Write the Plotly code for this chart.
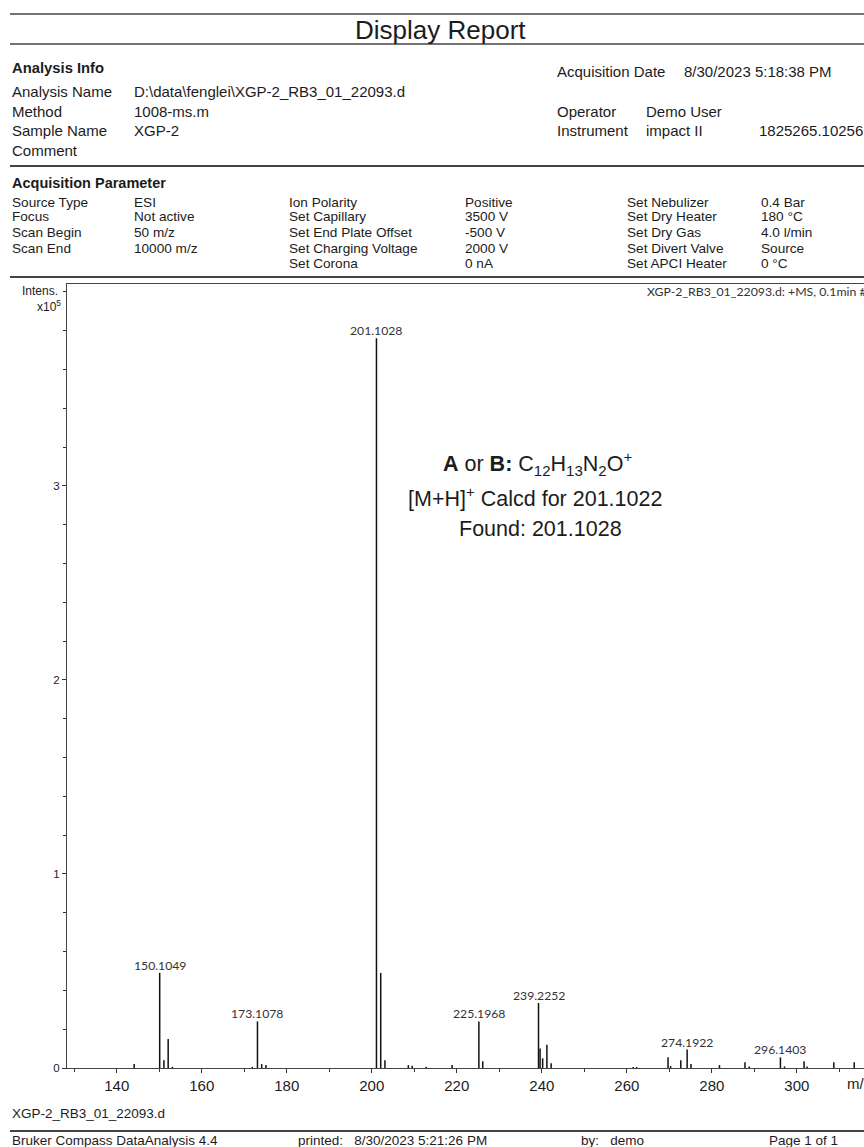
import plotly.graph_objects as go

# ---------------- data ----------------
peak_mz = [144.1, 150.1049, 151.1, 152.1, 153.1, 171.9, 173.1078, 174.1, 175.1,
           201.1028, 202.1, 203.1, 208.6, 209.5, 212.8, 218.9, 225.1968, 226.1,
           239.2252, 239.6, 240.2, 241.2, 242.2, 261.5, 262.3, 269.7, 270.3,
           272.7, 274.1922, 275.1, 281.8, 287.8, 288.8, 296.1403, 297.1,
           301.7, 302.4, 308.7, 313.5]
peak_int = [0.02, 0.49, 0.04, 0.15, 0.006, 0.006, 0.24, 0.02, 0.015,
            3.76, 0.49, 0.04, 0.015, 0.012, 0.006, 0.015, 0.24, 0.035,
            0.335, 0.10, 0.05, 0.12, 0.025, 0.005, 0.005, 0.055, 0.01,
            0.04, 0.095, 0.02, 0.015, 0.03, 0.008, 0.055, 0.008,
            0.035, 0.008, 0.03, 0.03]

label_mz = [150.1049, 173.1078, 201.1028, 225.1968, 239.2252, 274.1922, 296.1403]
label_int = [0.49, 0.24, 3.76, 0.24, 0.335, 0.095, 0.055]

x_tickvals = [140, 160, 180, 200, 220, 240, 260, 280, 300]
y_tickvals = [0, 1, 2, 3]

# ---------------- geometry helpers ----------------
W, H = 864, 1147
ML, MR, MT, MB = 67, 0, 284, 79
PW, PH = W - ML - MR, H - MT - MB


def px(x):
    return (x - ML) / PW


def py(y):
    return (H - MB - y) / PH


TXT = "#1c1c1c"
ARIAL = "Arial, Liberation Sans, sans-serif"
CAL = "Lato, Open Sans, sans-serif"

# stick spectrum built from the data lists
xs, ys = [], []
for m, h in zip(peak_mz, peak_int):
    xs += [m, m, None]
    ys += [0, h, None]

fig = go.Figure()
fig.add_trace(go.Scatter(x=xs, y=ys, mode="lines",
                         line=dict(color="#111111", width=1.5),
                         hoverinfo="skip", showlegend=False))

ann = []
for m, h in zip(label_mz, label_int):
    ann.append(dict(x=m, y=h, xref="x", yref="y", text=f"{m:.4f}",
                    showarrow=False, yanchor="bottom", yshift=-2,
                    font=dict(family=CAL, size=12.2, color="#333333")))


def T(x, y, text, size=13, bold=False, xanchor="left", family=ARIAL, color=TXT):
    if bold:
        text = f"<b>{text}</b>"
    ann.append(dict(x=px(x), y=py(y), xref="paper", yref="paper", text=text,
                    showarrow=False, xanchor=xanchor, yanchor="middle",
                    font=dict(family=family, size=size, color=color)))


# header
T(440, 30, "Display Report", size=26, xanchor="center")
T(10, 68, "Analysis Info", size=14.8, bold=True)
FS = 15
T(10, 91, "Analysis Name", FS)
T(132, 91, "D:\\data\\fenglei\\XGP-2_RB3_01_22093.d", FS)
T(10, 112, "Method", FS)
T(132, 112, "1008-ms.m", FS)
T(10, 131, "Sample Name", FS)
T(132, 131, "XGP-2", FS)
T(10, 150, "Comment", FS)
T(555, 72, "Acquisition Date", FS)
T(682, 72, "8/30/2023 5:18:38 PM", FS)
T(555, 112, "Operator", FS)
T(644, 112, "Demo User", FS)
T(555, 131, "Instrument", FS)
T(644, 131, "impact II", FS)
T(757, 131, "1825265.10256", FS)

# acquisition parameter block
T(10, 183, "Acquisition Parameter", 14.5, bold=True)
rows_y = [202, 217, 233, 248, 263]
col1 = ["Source Type", "Focus", "Scan Begin", "Scan End", ""]
col2 = ["ESI", "Not active", "50 m/z", "10000 m/z", ""]
col3 = ["Ion Polarity", "Set Capillary", "Set End Plate Offset", "Set Charging Voltage", "Set Corona"]
col4 = ["Positive", "3500 V", "-500 V", "2000 V", "0 nA"]
col5 = ["Set Nebulizer", "Set Dry Heater", "Set Dry Gas", "Set Divert Valve", "Set APCI Heater"]
col6 = ["0.4 Bar", "180 °C", "4.0 l/min", "Source", "0 °C"]
for cx, col in zip([10, 132, 287, 463, 625, 759], [col1, col2, col3, col4, col5, col6]):
    for yy, t in zip(rows_y, col):
        if t:
            T(cx, yy, t, 13.6)

# spectrum header and axis captions
T(645, 291, "XGP-2_RB3_01_22093.d: +MS, 0.1min #6", 12.3, family=CAL, color="#333333")
T(60, 291, "Intens.", 12, xanchor="right")
T(63, 306, "x10<sup>5</sup>", 12, xanchor="right")
T(845, 1083, "m/z", 15)

# compound annotation
T(537, 463, "<b>A</b> or <b>B:</b> C<sub>12</sub>H<sub>13</sub>N<sub>2</sub>O<sup>+</sup>", 21.5, xanchor="center")
T(535, 497, "[M+H]<sup>+</sup> Calcd for 201.1022", 21.5, xanchor="center")
T(540, 529, "Found: 201.1028", 21.5, xanchor="center")

# footer
FF = 13.5
T(10, 1113, "XGP-2_RB3_01_22093.d", FF)
T(10, 1140, "Bruker Compass DataAnalysis 4.4", FF)
T(296, 1140, "printed:   8/30/2023 5:21:26 PM", FF)
T(579, 1140, "by:   demo", FF)
T(767, 1140, "Page 1 of 1", FF)

shapes = []


def HL(y, x0=10, x1=864, w=1.5, color="#444444"):
    shapes.append(dict(type="line", xref="paper", yref="paper",
                       x0=px(x0), x1=px(x1), y0=py(y), y1=py(y),
                       line=dict(color=color, width=w)))


HL(14)
HL(44)
HL(166, w=2)
HL(277, w=2)
HL(1131, w=2)

fig.update_layout(
    width=W, height=H,
    margin=dict(l=ML, r=MR, t=MT, b=MB),
    paper_bgcolor="white", plot_bgcolor="white",
    annotations=ann, shapes=shapes,
    showlegend=False,
    xaxis=dict(range=[128.3, 315.8], tickvals=x_tickvals,
               ticktext=[str(v) for v in x_tickvals],
               ticks="outside", ticklen=4, tickcolor="#333", tickwidth=1,
               minor=dict(dtick=10, tick0=0, ticks="outside", ticklen=3, tickcolor="#333"),
               showline=True, linecolor="#444", linewidth=1.2, mirror=True,
               showgrid=False, zeroline=False,
               tickfont=dict(family=ARIAL, size=15, color=TXT)),
    yaxis=dict(range=[0, 4.04], tickvals=y_tickvals,
               ticktext=[str(v) for v in y_tickvals],
               ticks="outside", ticklen=4, tickcolor="#333", tickwidth=1,
               minor=dict(dtick=0.2, tick0=0, ticks="outside", ticklen=3, tickcolor="#333"),
               showline=True, linecolor="#444", linewidth=1.2,
               showgrid=False, zeroline=False,
               tickfont=dict(family=ARIAL, size=11.5, color=TXT)),
)

fig.write_html("out.html", config={"displayModeBar": False},
               post_script="document.body.style.margin='0';")
